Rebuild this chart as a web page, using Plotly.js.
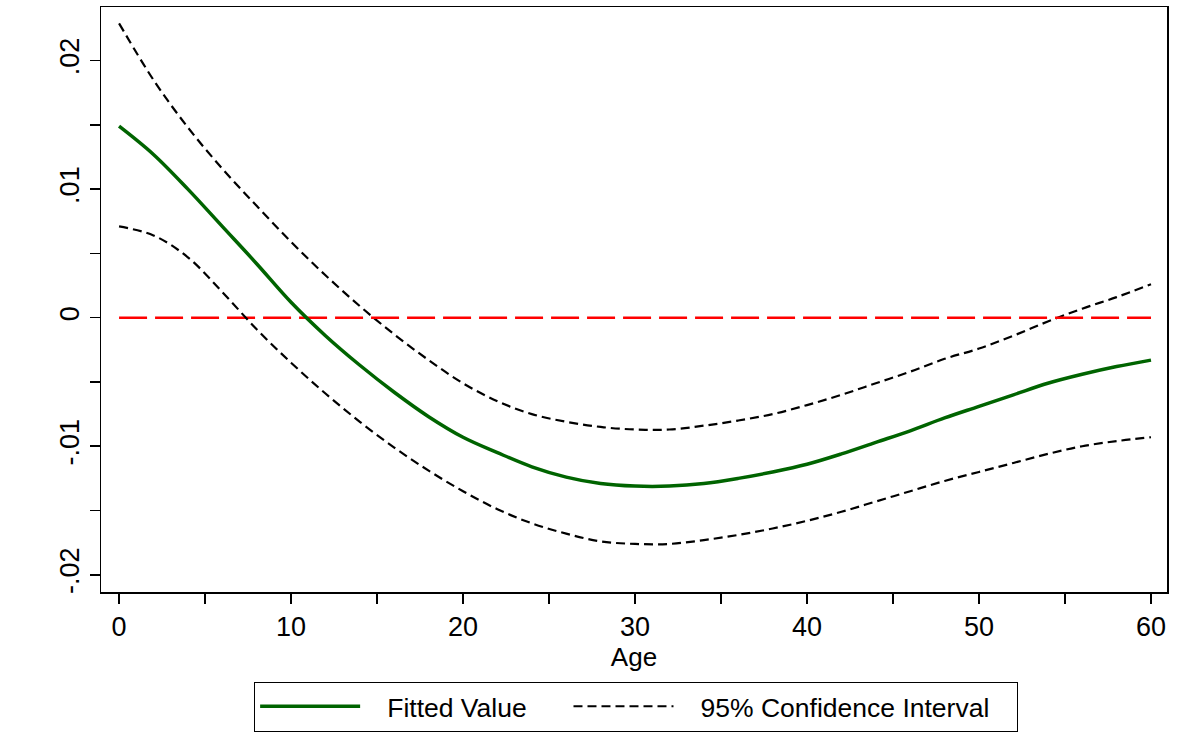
<!DOCTYPE html>
<html>
<head>
<meta charset="utf-8">
<script src="https://cdn.plot.ly/plotly-3.0.1.min.js"></script>
<style>html,body{margin:0;padding:0;background:#fff;}#chart{width:1181px;height:738px;}</style>
</head>
<body>
<div id="chart"></div>
<script>
const ages = [0,2,4,6,8,10,12,14,16,18,20,22,24,26,28,30,32,34,36,38,40,42,44,46,48,50,52,54,56,58,60];
const fitted = [0.0149,0.0127,0.0100,0.0071,0.0042,0.0012,-0.0014,-0.0037,-0.0058,-0.0077,-0.0093,-0.0105,-0.0116,-0.0124,-0.0129,-0.0131,-0.0131,-0.0129,-0.0125,-0.0120,-0.0114,-0.0106,-0.0097,-0.0088,-0.0078,-0.0069,-0.0060,-0.0051,-0.0044,-0.0038,-0.0033];
const upperCI = [0.0229,0.0185,0.0148,0.0116,0.0087,0.0059,0.0033,0.0009,-0.0013,-0.0033,-0.0051,-0.0065,-0.0075,-0.0081,-0.0085,-0.0087,-0.0087,-0.0084,-0.0080,-0.0075,-0.0068,-0.0060,-0.0051,-0.0042,-0.0032,-0.0024,-0.0014,-0.0003,0.0007,0.0016,0.0026];
const lowerCI = [0.0071,0.0064,0.0047,0.0020,-0.0009,-0.0035,-0.0059,-0.0081,-0.0101,-0.0119,-0.0135,-0.0149,-0.0160,-0.0168,-0.0174,-0.0176,-0.0176,-0.0173,-0.0169,-0.0164,-0.0158,-0.0151,-0.0143,-0.0135,-0.0127,-0.0120,-0.0113,-0.0106,-0.0100,-0.0096,-0.0093];
const refX = [0,60];
const refY = [0,0];
const yTickVals = [-0.02,-0.015,-0.01,-0.005,0,0.005,0.01,0.015,0.02];
const yTickText = ["-.02","","-.01","","0","",".01","",".02"];
const xTickVals = [0,5,10,15,20,25,30,35,40,45,50,55,60];
const xTickText = ["0","","10","","20","","30","","40","","50","","60"];
const legendNames = ["Fitted Value", "95% Confidence Interval"];

const font = "Liberation Sans, Arial, sans-serif";
const nb = n => "\u00a0".repeat(n);
const ciLine = {color: "#000", width: 2.2, dash: "9px,5px", shape: "spline", smoothing: 1};
const traces = [
  {x: ages, y: upperCI, mode: "lines", name: legendNames[1], line: ciLine, showlegend: false},
  {x: refX, y: refY, mode: "lines", name: "zero", line: {color: "#ff0000", width: 2.5, dash: "28px,8px"}, showlegend: false},
  {x: ages, y: lowerCI, mode: "lines", name: legendNames[1], line: ciLine, showlegend: false},
  {x: ages, y: fitted, mode: "lines", name: nb(3) + legendNames[0] + nb(5), line: {color: "#006400", width: 3.5, shape: "spline", smoothing: 1}, showlegend: true},
  {x: [null], y: [null], mode: "lines", name: nb(3) + legendNames[1] + nb(3), line: ciLine, showlegend: true}
];
const layout = {
  width: 1181, height: 738,
  margin: {l: 101, r: 14, t: 7, b: 142},
  paper_bgcolor: "#fff", plot_bgcolor: "#fff",
  font: {family: font, size: 26, color: "#000"},
  xaxis: {
    range: [-1.05, 60.93], tickvals: xTickVals, ticktext: xTickText,
    ticks: "outside", ticklen: 10, tickwidth: 1.5, tickcolor: "#000",
    showline: true, linecolor: "#000", linewidth: 1.5, mirror: true,
    showgrid: false, zeroline: false,
    tickfont: {family: font, size: 27},
    title: {text: "Age", font: {family: font, size: 26}, standoff: 0}
  },
  yaxis: {
    range: [-0.02134, 0.02417], tickvals: yTickVals, ticktext: yTickText,
    ticks: "outside", ticklen: 10, tickwidth: 1.5, tickcolor: "#000",
    showline: true, linecolor: "#000", linewidth: 1.5, mirror: true,
    showgrid: false, zeroline: false, tickangle: -90,
    tickfont: {family: font, size: 27}
  },
  showlegend: true,
  legend: {
    orientation: "h", x: 0.502, xanchor: "center", y: -0.153, yanchor: "top",
    bordercolor: "#000", borderwidth: 1, bgcolor: "#fff",
    font: {family: font, size: 26.5}, itemwidth: 100, traceorder: "normal"
  }
};
Plotly.newPlot("chart", traces, layout, {displayModeBar: false, staticPlot: true});
</script>
</body>
</html>
